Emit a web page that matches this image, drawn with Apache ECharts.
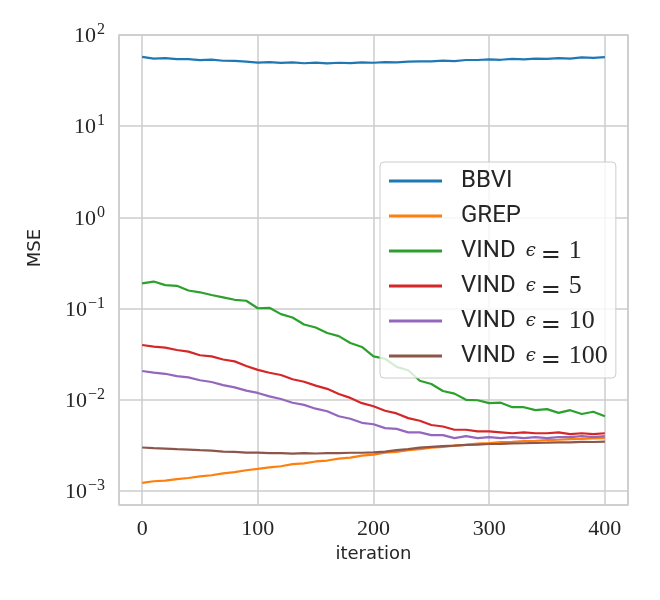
<!DOCTYPE html>
<html>
<head>
<meta charset="utf-8">
<script src="https://cdn.jsdelivr.net/npm/echarts@6/dist/echarts.min.js"></script>
<style>
  html, body { margin: 0; padding: 0; background: #fff; }
  #chart { width: 660px; height: 600px; }
</style>
</head>
<body>
<div id="chart"></div>
<script>
// iteration (sampled every 10 steps)
const iters = [0, 10, 20, 30, 40, 50, 60, 70, 80, 90, 100, 110, 120, 130, 140, 150, 160, 170, 180, 190,
  200, 210, 220, 230, 240, 250, 260, 270, 280, 290, 300, 310, 320, 330, 340, 350, 360, 370, 380, 390, 400];

const bbvi = [57.6, 55.1, 55.9, 54.4, 54.3, 53.0, 53.7, 52.2, 52.1, 51.1, 49.7, 50.5, 49.4, 50.2, 49.0,
  49.9, 48.8, 49.6, 49.1, 50.1, 49.6, 50.5, 50.0, 51.1, 51.4, 51.3, 52.4, 51.8, 53.2, 53.2, 54.1, 53.5,
  54.6, 54.0, 55.2, 54.6, 55.8, 55.1, 56.9, 56.0, 57.1];

const grep = [0.00123, 0.00128, 0.00130, 0.00135, 0.00139, 0.00145, 0.00149, 0.00156, 0.00161, 0.00169,
  0.00175, 0.00182, 0.00187, 0.00197, 0.00201, 0.00211, 0.00216, 0.00227, 0.00232, 0.00244, 0.00251,
  0.00263, 0.00269, 0.00281, 0.00288, 0.00299, 0.00304, 0.00314, 0.00321, 0.00331, 0.00336, 0.00343,
  0.00347, 0.00352, 0.00356, 0.00362, 0.00365, 0.00370, 0.00373, 0.00377, 0.00380];

const vind1 = [0.189, 0.198, 0.181, 0.178, 0.158, 0.151, 0.141, 0.133, 0.125, 0.122, 0.101, 0.102, 0.087,
  0.080, 0.067, 0.062, 0.054, 0.050, 0.042, 0.038, 0.030, 0.0282, 0.0230, 0.0211, 0.0162, 0.0149, 0.0125,
  0.0117, 0.0100, 0.0099, 0.0092, 0.0093, 0.0083, 0.0083, 0.0077, 0.0079, 0.0072, 0.0077, 0.0070, 0.0074,
  0.0066];

const vind5 = [0.0399, 0.0383, 0.0374, 0.0352, 0.0338, 0.0308, 0.0300, 0.0277, 0.0264, 0.0235, 0.0213,
  0.0198, 0.0187, 0.0168, 0.0158, 0.0143, 0.0132, 0.0116, 0.0105, 0.0092, 0.0085, 0.0076, 0.0071, 0.0063,
  0.0059, 0.0053, 0.0051, 0.0047, 0.0047, 0.0045, 0.0045, 0.0044, 0.0043, 0.0044, 0.0043, 0.0043, 0.0044,
  0.0042, 0.0043, 0.0042, 0.0043];

const vind10 = [0.0207, 0.0199, 0.0193, 0.0182, 0.0176, 0.0164, 0.0157, 0.0145, 0.0137, 0.0126, 0.0119,
  0.0109, 0.0102, 0.0093, 0.0088, 0.0080, 0.0075, 0.0066, 0.0062, 0.0056, 0.0054, 0.0049, 0.0048, 0.0044,
  0.0044, 0.0041, 0.0041, 0.0038, 0.0040, 0.0038, 0.0039, 0.0038, 0.0039, 0.0038, 0.0039, 0.0038, 0.0039,
  0.0039, 0.0040, 0.0039, 0.0040];

const vind100 = [0.00300, 0.00295, 0.00292, 0.00288, 0.00285, 0.00281, 0.00278, 0.00271, 0.00269, 0.00264,
  0.00264, 0.00260, 0.00261, 0.00257, 0.00260, 0.00258, 0.00261, 0.00260, 0.00263, 0.00263, 0.00266,
  0.00270, 0.00281, 0.00288, 0.00299, 0.00305, 0.00311, 0.00315, 0.00321, 0.00323, 0.00328, 0.00329,
  0.00333, 0.00334, 0.00338, 0.00339, 0.00342, 0.00342, 0.00346, 0.00345, 0.00348];

const seriesNames = ['BBVI', 'GREP', 'VIND \u03f5 = 1', 'VIND \u03f5 = 5', 'VIND \u03f5 = 10', 'VIND \u03f5 = 100'];
const seriesValues = [bbvi, grep, vind1, vind5, vind10, vind100];
const colors = ['#1f77b4', '#ff7f0e', '#2ca02c', '#d62728', '#9467bd', '#8c564b'];

const xTicks = [0, 100, 200, 300, 400];

const TEXT = '#262626';
const GRID = '#cccccc';

function logLabel(v) {
  const p = Math.log10(v);
  const e = Math.round(p);
  if (Math.abs(p - e) > 1e-6) return '';
  return '{b|10}{e|' + (e < 0 ? '\u2212' + (-e) : e) + '}';
}

function legendLabel(name) {
  if (name.indexOf('VIND') !== 0) return '{s|' + name + '}';
  const num = name.split('= ')[1];
  return '{s|VIND}{g|\u03f5}{q|=}{m|' + num + '}';
}

const series = seriesNames.map((name, i) => ({
  name: name,
  type: 'line',
  symbol: 'none',
  showSymbol: false,
  color: colors[i],
  lineStyle: { width: 2.2 },
  data: iters.map((it, j) => [it, seriesValues[i][j]])
}));

const chart = echarts.init(document.getElementById('chart'));
chart.setOption({
  animation: false,
  backgroundColor: '#fff',
  grid: {
    left: 119, right: 32, top: 35, bottom: 95,
    show: true, borderColor: GRID, borderWidth: 1.5, backgroundColor: 'transparent'
  },
  legend: {
    orient: 'vertical',
    left: 380, top: 162,
    padding: [2, 8, 5, 9],
    icon: 'rect',
    itemWidth: 53, itemHeight: 3, itemGap: 1,
    backgroundColor: 'rgba(255,255,255,0.8)',
    borderColor: GRID, borderWidth: 1, borderRadius: 4,
    formatter: legendLabel,
    textStyle: {
      color: TEXT,
      lineHeight: 34,
      rich: {
        s: { fontFamily: 'Roboto', fontSize: 24, lineHeight: 34, padding: [0, 0, 0, 14], color: TEXT },
        g: { fontFamily: 'DejaVu Serif', fontStyle: 'italic', fontSize: 18, lineHeight: 34, padding: [0, 0, 0, 10], color: TEXT },
        q: { fontFamily: 'DejaVu Serif', fontSize: 24, lineHeight: 34, padding: [0, 8, 0, 5], verticalAlign: 'bottom', color: TEXT },
        m: { fontFamily: 'Liberation Serif', fontSize: 26, lineHeight: 34, color: TEXT }
      }
    },
    data: seriesNames
  },
  xAxis: {
    type: 'value',
    min: -20, max: 420,
    name: 'iteration',
    nameLocation: 'middle',
    nameGap: 38,
    nameTextStyle: { fontFamily: 'DejaVu Sans', fontSize: 18, color: TEXT },
    axisLine: { show: false },
    axisTick: { show: false },
    axisLabel: {
      margin: 13,
      fontFamily: 'Liberation Serif', fontSize: 22, color: TEXT,
      formatter: v => (xTicks.indexOf(v) >= 0 ? String(v) : '')
    },
    splitLine: { show: true, lineStyle: { color: GRID, width: 1.5 } }
  },
  yAxis: {
    type: 'log',
    logBase: 10,
    min: 0.000703, max: 100,
    name: 'MSE',
    nameLocation: 'middle',
    nameGap: 75,
    nameTextStyle: { fontFamily: 'DejaVu Sans', fontSize: 18, color: TEXT, padding: [0, 0, 0, 44] },
    axisLine: { show: false },
    axisTick: { show: false },
    minorTick: { show: false },
    axisLabel: {
      margin: 14,
      color: TEXT,
      formatter: logLabel,
      rich: {
        b: { fontFamily: 'Liberation Serif', fontSize: 22, lineHeight: 26, padding: [3, 0, 0, 0], color: TEXT },
        e: { fontFamily: 'Liberation Serif', fontSize: 16, lineHeight: 12, padding: [0, 0, 0, 1], verticalAlign: 'top', color: TEXT }
      }
    },
    splitLine: { show: true, lineStyle: { color: GRID, width: 1.5 } }
  },
  series: series
});
</script>
</body>
</html>
